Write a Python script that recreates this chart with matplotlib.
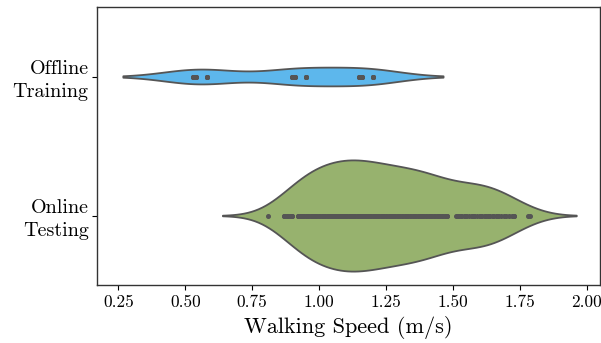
import matplotlib
matplotlib.use("Agg")
import matplotlib.pyplot as plt
import pandas as pd
import seaborn as sns

# walking speeds (m/s)
offline_training = [0.53, 0.53, 0.53, 0.54, 0.54, 0.54, 0.58, 0.58, 0.58, 0.58,
                    0.90, 0.90, 0.90, 0.91, 0.91, 0.91, 0.95, 0.95, 0.95, 0.95,
                    1.15, 1.15, 1.15, 1.16, 1.16, 1.16, 1.20, 1.20, 1.20, 1.20]

online_testing = [0.81,
                  0.87, 0.87, 0.88, 0.88, 0.89, 0.89, 0.90, 0.90,
                  0.92, 0.92, 0.93, 0.93, 0.94, 0.94, 0.94, 0.95, 0.95,
                  0.96, 0.96, 0.97, 0.97, 0.98, 0.98, 0.98, 0.99, 0.99, 1.00,
                  1.00, 1.01, 1.01, 1.02, 1.02, 1.02, 1.03, 1.03, 1.04, 1.04, 1.04, 1.05,
                  1.05, 1.06, 1.06, 1.06, 1.07, 1.07, 1.07, 1.08, 1.08, 1.09, 1.09, 1.09, 1.10,
                  1.10, 1.10, 1.11, 1.11, 1.12, 1.12, 1.12, 1.13, 1.13, 1.13, 1.14, 1.14, 1.15, 1.15,
                  1.15, 1.16, 1.16, 1.16, 1.17, 1.17, 1.17, 1.18, 1.18, 1.19, 1.19, 1.19, 1.20,
                  1.20, 1.21, 1.21, 1.22, 1.22, 1.22, 1.23, 1.23, 1.24, 1.24, 1.24, 1.25,
                  1.25, 1.26, 1.26, 1.27, 1.27, 1.28, 1.28, 1.28, 1.29, 1.29, 1.30,
                  1.30, 1.31, 1.31, 1.32, 1.32, 1.33, 1.33, 1.33, 1.34, 1.34, 1.35,
                  1.35, 1.36, 1.36, 1.37, 1.37, 1.38, 1.38, 1.38, 1.39, 1.39, 1.40,
                  1.40, 1.41, 1.41, 1.42, 1.42, 1.43, 1.43, 1.44, 1.44, 1.45,
                  1.45, 1.46, 1.46, 1.47, 1.47, 1.48, 1.48,
                  1.51, 1.52, 1.52, 1.53, 1.53, 1.54, 1.55,
                  1.55, 1.56, 1.57, 1.57, 1.58, 1.58, 1.59, 1.60,
                  1.60, 1.61, 1.62, 1.62, 1.63, 1.63, 1.64, 1.65,
                  1.65, 1.66, 1.67, 1.67, 1.68, 1.69, 1.70,
                  1.71, 1.72, 1.73, 1.73,
                  1.78, 1.79]

categories = ["Offline\nTraining", "Online\nTesting"]
colors = ["#5DB7EC", "#97B26E"]
x_ticks = [0.25, 0.50, 0.75, 1.00, 1.25, 1.50, 1.75, 2.00]

plt.rcParams["font.family"] = "serif"
plt.rcParams["font.serif"] = ["cmr10"]
plt.rcParams["mathtext.fontset"] = "cm"
plt.rcParams["axes.unicode_minus"] = False

df = pd.DataFrame({
    "speed": offline_training + online_testing,
    "group": [categories[0]] * len(offline_training) + [categories[1]] * len(online_testing),
})

fig, ax = plt.subplots(figsize=(6.01, 3.43), dpi=100)
fig.subplots_adjust(left=97/601, right=600/601, top=1-7/343, bottom=1-285/343)

sns.violinplot(data=df, x="speed", y="group", hue="group", order=categories,
               hue_order=categories, palette=colors, saturation=1,
               inner="point", density_norm="count", common_norm=True, cut=2,
               linewidth=1.3, linecolor="#555555", width=0.8, legend=False, ax=ax)

ax.set_xlim(0.17, 2.05)
ax.set_xticks(x_ticks)
ax.set_xticklabels(["%.2f" % t for t in x_ticks], fontsize=12.5)
ax.set_yticks(range(len(categories)))
ax.set_yticklabels(categories, fontsize=14.5, linespacing=1.35)
ax.tick_params(axis="y", pad=2.5)
ax.set_xlabel("Walking Speed (m/s)", fontsize=16)
ax.set_ylabel("")
for s in ax.spines.values():
    s.set_visible(True)
    s.set_color("#333333")
    s.set_linewidth(1.0)

fig.savefig("out.png", dpi=100)
